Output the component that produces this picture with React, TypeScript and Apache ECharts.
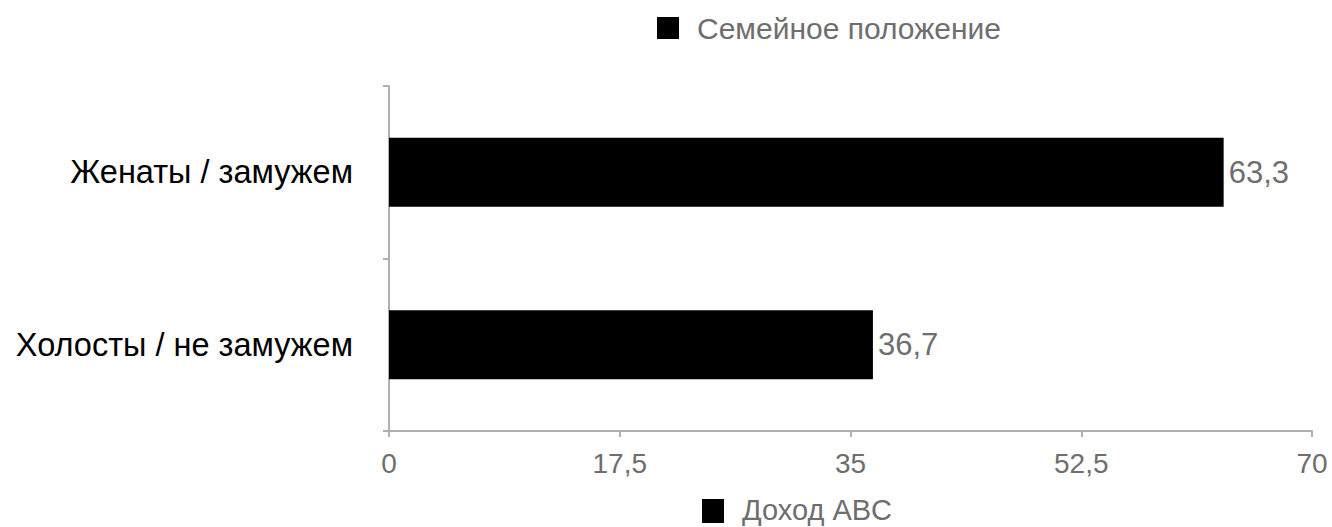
import React, { useEffect, useRef } from "react";
import * as echarts from "echarts";

const categories = ["Холосты / не замужем", "Женаты / замужем"];
const values = [36.7, 63.3];
const seriesName = "Семейное положение";
const axisTitle = "Доход ABC";
const xTicks = [0, 17.5, 35, 52.5, 70];

const FONT = "'Liberation Sans', Arial, Helvetica, sans-serif";
const GRAY = "#6e6e6e";
const fmt = (v: number) => String(v).replace(".", ",");

export default function App() {
  const ref = useRef<HTMLDivElement>(null);
  useEffect(() => {
    if (!ref.current) return;
    const chart = echarts.init(ref.current, null, { renderer: "svg" });
    chart.setOption({
      animation: false,
      textStyle: { fontFamily: FONT },
      legend: {
        data: [seriesName],
        left: 657,
        top: 13,
        padding: 0,
        icon: "rect",
        itemWidth: 22,
        itemHeight: 22,
        textStyle: { color: GRAY, fontSize: 30, fontFamily: FONT, padding: [0, 0, 0, 13] },
      },
      grid: { left: 389, right: 20, top: 86, bottom: 96, containLabel: false },
      xAxis: {
        type: "value",
        min: xTicks[0],
        max: xTicks[xTicks.length - 1],
        interval: xTicks[1] - xTicks[0],
        splitLine: { show: false },
        axisLine: { show: true, lineStyle: { color: "#b0b0b0", width: 2 } },
        axisTick: { show: true, length: 6, lineStyle: { color: "#b0b0b0", width: 2 } },
        axisLabel: {
          color: GRAY,
          fontSize: 28,
          fontFamily: FONT,
          margin: 18,
          formatter: (v: number) => fmt(v),
        },
      },
      yAxis: {
        type: "category",
        data: categories,
        axisLine: { show: true, lineStyle: { color: "#b0b0b0", width: 2 } },
        axisTick: { show: true, length: 6, lineStyle: { color: "#b0b0b0", width: 2 } },
        axisLabel: { color: "#000", fontSize: 32.5, fontFamily: FONT, margin: 36 },
      },
      series: [
        {
          name: seriesName,
          type: "bar",
          data: values,
          barWidth: "40%",
          itemStyle: { color: "#000" },
          label: {
            show: true,
            position: "right",
            distance: 5,
            color: GRAY,
            fontSize: 31,
            fontFamily: FONT,
            formatter: (p: any) => fmt(p.value),
          },
        },
      ],
      graphic: [
        {
          type: "rect",
          x: 702,
          y: 499,
          shape: { x: 0, y: 0, width: 22, height: 24 },
          style: { fill: "#000" },
        },
        {
          type: "text",
          x: 742,
          y: 510,
          style: {
            text: axisTitle,
            fill: GRAY,
            fontSize: 29,
            lineHeight: 29,
            fontFamily: FONT,
            verticalAlign: "middle",
          },
        },
      ],
    });
    return () => chart.dispose();
  }, []);
  return (
    <div
      ref={ref}
      style={{ position: "absolute", left: 0, top: 0, width: 1332, height: 527 }}
    />
  );
}
